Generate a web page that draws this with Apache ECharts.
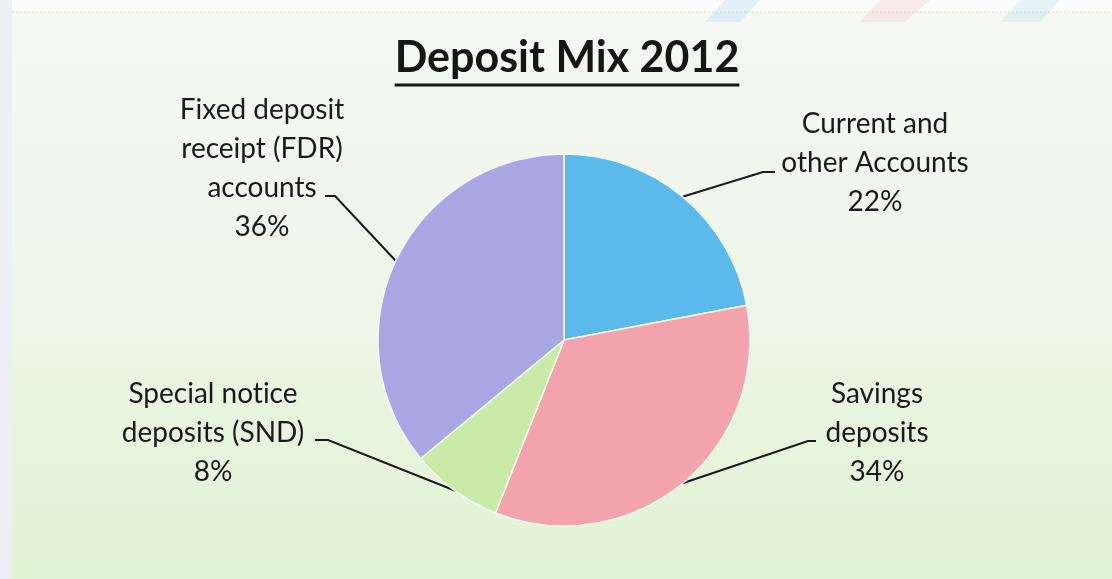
<!DOCTYPE html>
<html>
<head>
<meta charset="utf-8">
<title>Deposit Mix 2012</title>
<script src="https://cdn.jsdelivr.net/npm/echarts@6/dist/echarts.min.js"></script>
<style>
  html, body { margin: 0; padding: 0; width: 100%; height: 100%; overflow: hidden; }
  #chart { width: 1112px; height: 579px; }
</style>
</head>
<body>
<div id="chart"></div>
<script>
// Deposit categories, clockwise from 12 o'clock
// (a zero-width non-joiner keeps "ti" from fusing into a ligature)
const categories = [
  'Current and\nother Accounts',
  'Savings\ndeposits',
  'Special not\u200Cice\ndeposits (SND)',
  'Fixed deposit\nreceipt (FDR)\naccounts'
];
// Share of total deposits, per cent
const shares = [22, 34, 8, 36];
const sliceColors = ['#5bb9ec', '#f3a3ab', '#c9eba7', '#a8a7e4'];

const TITLE = 'Deposit Mix 2012';
const FONT = 'Lato, "Open Sans", sans-serif';
const TITLE_SIZE = 43;
const LABEL_SIZE = 28;
const TITLE_CX = 567;

const CENTER = [564, 340];
const RADIUS = 186;

// Label block centres and leader line bends (elbow, end) for each slice
const labelSpots = [
  { x: 875, y: 163, elbow: [763, 172], end: [775, 172] },
  { x: 877, y: 433, elbow: [808, 441], end: [816, 441] },
  { x: 213, y: 433, elbow: [328, 440], end: [315, 440] },
  { x: 262, y: 168, elbow: [335, 196], end: [325, 196] }
];

// Point on the rim at the middle of slice i (start at top, clockwise)
function rimPoint(i) {
  const total = shares.reduce((a, b) => a + b, 0);
  let before = 0;
  for (let k = 0; k < i; k++) before += shares[k];
  const frac = (before + shares[i] / 2) / total;
  const ang = Math.PI / 2 - frac * Math.PI * 2;
  return [CENTER[0] + RADIUS * Math.cos(ang), CENTER[1] - RADIUS * Math.sin(ang)];
}

// Width of the title text, for centring it and its underline
function textWidth(text, font) {
  const ctx = document.createElement('canvas').getContext('2d');
  ctx.font = font;
  return ctx.measureText(text).width;
}
const titleW = textWidth(TITLE, 'bold ' + TITLE_SIZE + 'px ' + FONT);

const chart = echarts.init(document.getElementById('chart'), null, { renderer: 'canvas' });

chart.setOption({
  backgroundColor: {
    type: 'linear', x: 0, y: 0, x2: 0, y2: 1,
    colorStops: [
      { offset: 0, color: '#f6f8f4' },
      { offset: 0.45, color: '#eef6ea' },
      { offset: 1, color: '#e1f4d3' }
    ]
  },
  title: {
    text: TITLE,
    left: TITLE_CX - titleW / 2,
    top: 37,
    padding: 0,
    textStyle: {
      fontFamily: FONT,
      fontWeight: 'bold',
      fontSize: TITLE_SIZE,
      color: '#161616'
    }
  },
  graphic: [
    // pale strip along the top edge
    { type: 'rect', left: 0, top: 0, z: -10, shape: { width: 1112, height: 12 }, style: { fill: '#fbfcfb' } },
    { type: 'line', z: -9, shape: { x1: 12, y1: 12, x2: 1112, y2: 12 },
      style: { stroke: '#d8dcd6', lineWidth: 1, lineDash: [2, 2] } },
    // pale strip along the left edge
    { type: 'rect', left: 0, top: 0, z: -10, shape: { width: 12, height: 579 }, style: { fill: '#eeeff5' } },
    // faint emblem strokes at the top
    { type: 'polygon', z: -9, shape: { points: [[725, 0], [760, 0], [740, 22], [705, 22]] }, style: { fill: 'rgba(120,190,235,0.18)' } },
    { type: 'polygon', z: -9, shape: { points: [[880, 0], [930, 0], [905, 22], [860, 22]] }, style: { fill: 'rgba(240,150,170,0.16)' } },
    { type: 'polygon', z: -9, shape: { points: [[1020, 0], [1060, 0], [1040, 22], [1000, 22]] }, style: { fill: 'rgba(120,200,210,0.16)' } },
    // title underline
    { type: 'line', z: 10,
      shape: { x1: TITLE_CX - titleW / 2, y1: 85, x2: TITLE_CX + titleW / 2, y2: 85 },
      style: { stroke: '#161616', lineWidth: 3 } }
  ],
  series: [{
    type: 'pie',
    center: CENTER,
    radius: RADIUS,
    startAngle: 90,
    clockwise: true,
    avoidLabelOverlap: false,
    silent: true,
    itemStyle: { borderColor: '#f4f8f1', borderWidth: 1.5 },
    label: {
      show: true,
      position: 'outside',
      formatter: '{b}\n{c}%',
      fontFamily: FONT,
      fontSize: LABEL_SIZE,
      lineHeight: 39,
      color: '#1a1a1a',
      align: 'center'
    },
    labelLine: {
      show: true,
      smooth: false,
      lineStyle: { color: '#1a1a1a', width: 2 }
    },
    labelLayout: function (params) {
      const i = params.dataIndex;
      const s = labelSpots[i];
      return {
        x: s.x,
        y: s.y,
        align: 'center',
        verticalAlign: 'middle',
        labelLinePoints: [rimPoint(i), s.elbow, s.end]
      };
    },
    data: categories.map((name, i) => ({
      name: name,
      value: shares[i],
      itemStyle: { color: sliceColors[i] }
    }))
  }]
});
</script>
</body>
</html>
